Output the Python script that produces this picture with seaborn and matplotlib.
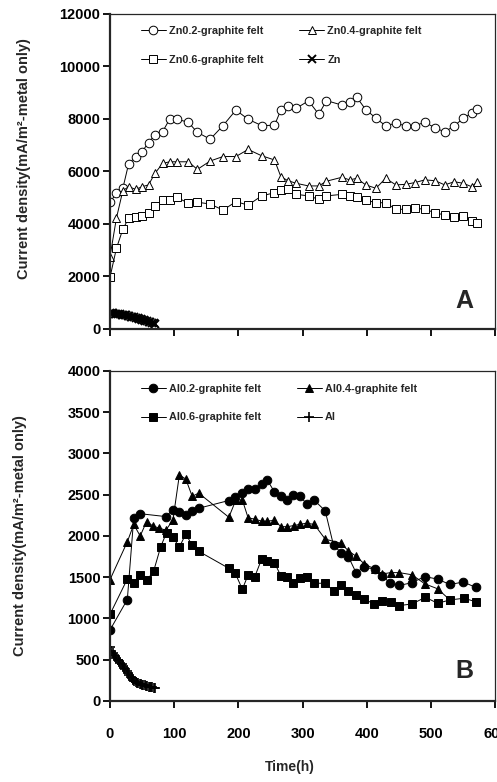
import matplotlib
matplotlib.use("Agg")
import matplotlib.pyplot as plt
import seaborn as sns

# ---- panel A: Zn electrodes ----
t_zn = [0, 10, 20, 29, 40, 50, 60, 70, 82, 93, 104, 122, 136, 156, 176, 196, 215,
        236, 256, 266, 277, 290, 309, 325, 337, 361, 373, 384, 398, 414, 429, 445,
        460, 475, 490, 506, 521, 536, 550, 563, 572]
zn02 = [4830, 5170, 5360, 6290, 6570, 6760, 7100, 7390, 7520, 8000, 8000, 7870, 7490,
        7230, 7750, 8340, 7990, 7750, 7760, 8340, 8510, 8410, 8690, 8180, 8700, 8530,
        8660, 8830, 8360, 8030, 7740, 7840, 7740, 7740, 7880, 7660, 7510, 7740, 8030,
        8220, 8380]
zn04 = [2750, 4220, 5270, 5420, 5320, 5420, 5490, 5930, 6310, 6370, 6370, 6370, 6080,
        6400, 6570, 6570, 6840, 6600, 6440, 5800, 5650, 5550, 5450, 5450, 5630, 5780,
        5680, 5740, 5490, 5360, 5740, 5490, 5510, 5580, 5680, 5650, 5490, 5610, 5550,
        5420, 5610]
zn06 = [1970, 3070, 3800, 4220, 4280, 4300, 4400, 4700, 4910, 4910, 5020, 4790, 4830,
        4760, 4530, 4850, 4720, 5070, 5190, 5300, 5320, 5130, 5070, 4940, 5070, 5130,
        5070, 5040, 4910, 4810, 4810, 4560, 4560, 4600, 4560, 4430, 4340, 4280, 4300,
        4130, 4050]
t_zn_bare = [0, 3, 5, 8, 10, 13, 15, 18, 20, 23, 25, 28, 30, 33, 35, 38, 40, 43, 45,
             48, 50, 53, 55, 58, 60, 63, 65, 68, 70]
zn_bare = [620, 600, 610, 590, 580, 585, 560, 550, 540, 530, 520, 500, 490, 470, 460,
           440, 420, 400, 390, 370, 350, 330, 320, 300, 280, 260, 240, 220, 200]

# ---- panel B: Al electrodes ----
t_al02 = [0, 27, 37, 47, 87, 98, 108, 118, 128, 138, 185, 195, 206, 215, 225, 236, 245,
          256, 266, 275, 285, 296, 306, 318, 335, 348, 360, 371, 383, 395, 412, 424,
          436, 450, 470, 490, 510, 529, 550, 569]
al02 = [860, 1230, 2220, 2270, 2235, 2320, 2295, 2255, 2300, 2336, 2430, 2470, 2520,
        2566, 2570, 2628, 2675, 2535, 2480, 2433, 2498, 2486, 2387, 2433, 2305, 1885,
        1798, 1750, 1556, 1620, 1600, 1515, 1430, 1400, 1434, 1508, 1477, 1412, 1442,
        1378]
t_al04 = [0, 27, 37, 47, 57, 67, 77, 87, 98, 108, 118, 128, 138, 185, 196, 206, 215,
          225, 236, 245, 256, 266, 276, 286, 296, 306, 318, 335, 360, 371, 383, 396,
          412, 424, 437, 450, 470, 490, 510, 529]
al04 = [1470, 1930, 2140, 2000, 2175, 2120, 2095, 2070, 2195, 2740, 2690, 2480, 2520,
        2227, 2437, 2437, 2220, 2205, 2180, 2180, 2190, 2113, 2113, 2126, 2142, 2155,
        2140, 1962, 1910, 1820, 1755, 1660, 1600, 1540, 1556, 1556, 1530, 1420, 1360,
        1225]
t_al06 = [0, 27, 37, 47, 58, 68, 79, 88, 98, 108, 118, 128, 138, 185, 195, 206, 215,
          225, 236, 245, 256, 266, 275, 285, 296, 306, 318, 335, 348, 360, 371, 383,
          396, 411, 424, 437, 450, 470, 491, 510, 529, 551, 569]
al06 = [1050, 1479, 1427, 1528, 1467, 1576, 1871, 2040, 1984, 1865, 2024, 1885, 1815,
        1608, 1548, 1354, 1528, 1500, 1718, 1701, 1677, 1515, 1500, 1427, 1487, 1507,
        1427, 1427, 1334, 1406, 1334, 1285, 1233, 1176, 1216, 1197, 1156, 1176, 1257,
        1184, 1225, 1245, 1204]
t_al_bare = [0, 2, 4, 6, 8, 10, 12, 14, 16, 18, 20, 22, 24, 26, 28, 30, 32, 34, 36, 38,
             40, 42, 44, 46, 48, 50, 52, 54, 56, 58, 60, 62, 64, 66, 68, 70]
al_bare = [650, 610, 580, 560, 540, 520, 500, 480, 460, 445, 425, 405, 385, 360, 340,
           315, 295, 275, 255, 240, 230, 220, 215, 205, 200, 195, 195, 190, 185, 180,
           175, 175, 170, 165, 160, 155]

sns.set_style("ticks")
plt.rcParams["font.family"] = ["Liberation Sans", "DejaVu Sans"]
plt.rcParams["font.weight"] = "bold"
plt.rcParams["axes.labelweight"] = "bold"

fig = plt.figure(figsize=(4.97, 7.82), dpi=100)
ax_a = fig.add_axes([0.2213, 0.5793, 0.7756, 0.4028])
ax_b = fig.add_axes([0.2213, 0.1036, 0.7756, 0.4220])


def draw(ax, x, y, label, marker, ms, fill, mew=0.7):
    sns.lineplot(x=x, y=y, ax=ax, label=label, color="black", lw=0.7, marker=marker,
                 markersize=ms, markerfacecolor=fill, markeredgecolor="black",
                 markeredgewidth=mew, sort=False, estimator=None)


draw(ax_a, t_zn, zn02, "Zn0.2-graphite felt", "o", 6.2, "white")
draw(ax_a, t_zn, zn04, "Zn0.4-graphite felt", "^", 6.2, "white")
draw(ax_a, t_zn, zn06, "Zn0.6-graphite felt", "s", 5.8, "white")
draw(ax_a, t_zn_bare, zn_bare, "Zn", "x", 6.0, "black", mew=1.4)

draw(ax_b, t_al02, al02, "Al0.2-graphite felt", "o", 6.2, "black")
draw(ax_b, t_al04, al04, "Al0.4-graphite felt", "^", 6.2, "black")
draw(ax_b, t_al06, al06, "Al0.6-graphite felt", "s", 5.8, "black")
draw(ax_b, t_al_bare, al_bare, "Al", "+", 6.5, "black", mew=1.2)

for ax, ymax, ystep, tag in [(ax_a, 12000, 2000, "A"), (ax_b, 4000, 500, "B")]:
    ax.set_xlim(0, 600)
    ax.set_ylim(0, ymax)
    ax.set_xticks(range(0, 601, 100))
    ax.set_yticks(range(0, ymax + 1, ystep))
    for side in ["left", "bottom"]:
        ax.spines[side].set_linewidth(1.6)
    for side in ["top", "right"]:
        ax.spines[side].set_linewidth(0.9)
    ax.tick_params(axis="both", direction="out", length=5, width=1.3,
                   labelsize=10.5, colors="black")
    ax.tick_params(axis="x", pad=13.5)
    ax.tick_params(axis="y", pad=2)
    for lab in ax.get_xticklabels() + ax.get_yticklabels():
        lab.set_fontweight("bold")
    ax.set_ylabel("Current density(mA/m²-metal only)", fontsize=10.5,
                  fontweight="bold")
    ax.text(0.92, 0.09, tag, transform=ax.transAxes, fontsize=18,
            fontweight="bold", ha="center", va="center")
    handles, labels = ax.get_legend_handles_labels()
    order = [0, 2, 1, 3]
    ax.legend([handles[i] for i in order], [labels[i] for i in order], ncol=2,
              frameon=False, loc="upper left", prop={"size": 7.8, "weight": "bold"},
              bbox_to_anchor=(0.08, 0.962), borderaxespad=0, borderpad=0,
              handlelength=2.3, handletextpad=0.3, columnspacing=3.3,
              labelspacing=1.75)

ax_a.tick_params(axis="x", labelbottom=False)
ax_a.set_xlabel("")
ax_a.yaxis.set_label_coords(-0.205, 0.54)
ax_b.yaxis.set_label_coords(-0.215, 0.5)
ax_b.set_xlabel("Time(h)", fontsize=10, fontweight="bold")
ax_b.xaxis.set_label_coords(0.466, -0.18)

fig.savefig("out.png", dpi=100)
